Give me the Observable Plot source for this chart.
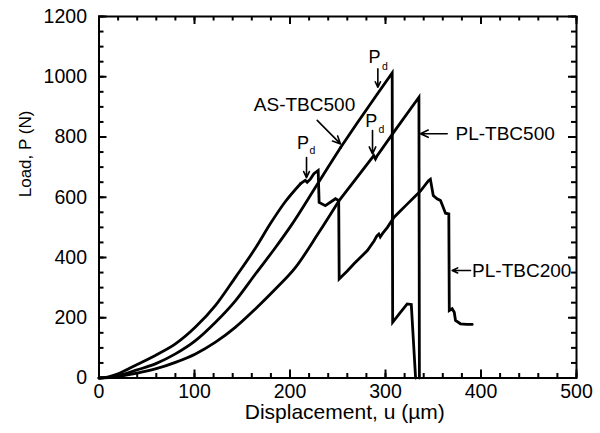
<!DOCTYPE html>
<html><head><meta charset="utf-8">
<script src="https://cdn.jsdelivr.net/npm/d3@7"></script>
<script src="https://cdn.jsdelivr.net/npm/@observablehq/plot@0.6"></script>
<style>body{margin:0;background:#fff}</style>
</head><body><div id="chart"></div>
<script>
// AS-TBC500
const asDisp = [0, 10, 20, 40, 59, 80, 101, 122, 143, 164, 185, 202, 228, 253, 270, 292, 307, 307.5, 315, 322.7, 327, 331.5];
const asLoad = [0, 2, 8, 27, 47, 80, 124, 185, 257, 346, 434, 510, 640, 765, 845, 945, 1013, 185, 215, 246, 244, 0];
// PL-TBC500
const pl500Disp = [0, 10, 20, 40, 59, 80, 101, 122, 143, 164, 185, 206, 230, 251, 270, 287.7, 289.5, 291.3, 310, 335, 335.5];
const pl500Load = [0, 1, 5, 16, 30, 52, 80, 119, 169, 230, 296, 368, 482, 587, 665, 738, 727, 738, 822, 932, 0];
// PL-TBC200
const pl200Disp = [0, 10, 20, 40, 59, 80, 101, 122, 143, 164, 180, 195, 211, 216, 218, 221.5, 225, 229.5, 230.5, 237, 247.6, 251, 251.5, 260, 267, 281, 288, 291, 293, 294.5, 297, 302, 309, 316, 323, 330, 337, 345, 347, 350, 354, 357.6, 360.4, 362.8, 366.3, 366.8, 369.8, 372, 373.3, 378.5, 385, 390.8];
const pl200Load = [0, 4, 14, 45, 75, 113, 169, 241, 335, 432, 515, 585, 645, 656, 650, 661, 678, 689, 583, 572, 595, 589, 329, 355, 379, 423, 455, 472, 478, 468, 480, 500, 534, 556, 578, 600, 622, 655, 660, 606, 595, 589, 567, 547, 545, 224, 230, 218, 191, 180, 178, 178];
// end of the smooth loading part of each curve (displacement)
const seriesNames = ["AS-TBC500", "PL-TBC500", "PL-TBC200"];
const smoothEnd = [253, 251, 211];

const xMajor = [0, 100, 200, 300, 400, 500];
const xMinor = d3.range(0, 501, 20);
const yMajor = [0, 200, 400, 600, 800, 1000, 1200];
const yMinor = d3.range(0, 1201, 50);

// annotations (data coordinates)
const curveLabels = ["AS-TBC500", "PL-TBC500", "PL-TBC200"];
const curveLabelX = [215.2, 373.3, 390.7];
const curveLabelY = [907, 811, 357];
const curveLabelAnchor = ["middle", "start", "start"];
const labelArrowX1 = [228.5, 364.6, 389];
const labelArrowY1 = [855, 811, 357];
const labelArrowX2 = [252.9, 336.6, 369.8];
const labelArrowY2 = [777, 811, 357];

const pdPX = [213.6, 285.2, 288.5];
const pdPY = [778, 853, 1064];
const pdSubX = [223.6, 295.8, 299.3];
const pdSubY = [756, 826, 1035];
const pdArrowX = [217.3, 286.4, 292];
const pdArrowY1 = [732, 821, 1026];
const pdArrowY2 = [665, 744, 965];

const series = (k, xs, ys) => xs.map((x, i) => ({series: seriesNames[k], end: smoothEnd[k], x, y: ys[i]}));
const data = [
  ...series(0, asDisp, asLoad),
  ...series(1, pl500Disp, pl500Load),
  ...series(2, pl200Disp, pl200Load)
];
const labels = curveLabels.map((t, i) => ({t, x: curveLabelX[i], y: curveLabelY[i], a: curveLabelAnchor[i],
  x1: labelArrowX1[i], y1: labelArrowY1[i], x2: labelArrowX2[i], y2: labelArrowY2[i]}));
const pds = pdPX.map((x, i) => ({x, y: pdPY[i], sx: pdSubX[i], sy: pdSubY[i], ax: pdArrowX[i], ay1: pdArrowY1[i], ay2: pdArrowY2[i]}));

const W = 600, H = 433, mL = 98.5, mR = 24, mT = 16, mB = 55.5;
const innerH = H - mT - mB, innerW = W - mL - mR;
const font = "'Liberation Sans', Arial, Helvetica, sans-serif";
const tk = {stroke: "#000", strokeWidth: 2};
const ln = {x: "x", y: "y", z: "series", stroke: "#000", strokeWidth: 2.8, strokeLinejoin: "miter", strokeMiterlimit: 4};

const chart = Plot.plot({
  width: W, height: H,
  marginLeft: mL, marginRight: mR, marginTop: mT, marginBottom: mB,
  style: {fontFamily: font, fontSize: "19px", background: "#fff", color: "#000"},
  x: {domain: [0, 500]},
  y: {domain: [0, 1200]},
  marks: [
    Plot.tickX(xMinor, {x: d => d, insetTop: innerH - 4.5, ...tk}),
    Plot.tickX(xMajor, {x: d => d, insetTop: innerH - 8, ...tk}),
    Plot.tickX(xMinor, {x: d => d, insetBottom: innerH - 4.5, ...tk}),
    Plot.tickX(xMajor, {x: d => d, insetBottom: innerH - 8, ...tk}),
    Plot.tickY(yMinor, {y: d => d, insetRight: innerW - 5, ...tk}),
    Plot.tickY(yMajor, {y: d => d, insetRight: innerW - 8, ...tk}),
    Plot.tickY(yMinor, {y: d => d, insetLeft: innerW - 5, ...tk}),
    Plot.tickY(yMajor, {y: d => d, insetLeft: innerW - 8, ...tk}),
    Plot.axisX({ticks: xMajor, tickSize: 0, tickPadding: 6, tickFormat: "d", label: null, fontSize: 19.5}),
    Plot.axisY({ticks: yMajor, tickSize: 0, tickPadding: 12, tickFormat: "d", label: null, fontSize: 19.5}),
    Plot.line(data.filter(d => d.x <= d.end), {...ln, curve: "monotone-x", strokeLinejoin: "round"}),
    Plot.line(data.filter(d => d.x >= d.end), ln),
    Plot.frame({stroke: "#000", strokeWidth: 2}),
    Plot.text(["Load, P (N)"], {frameAnchor: "left", dx: -73, rotate: -90, fontSize: 17}),
    Plot.text(["Displacement, u (µm)"], {frameAnchor: "bottom", dy: 41, dx: 7, fontSize: 21}),
    Plot.text(labels, {x: "x", y: "y", text: "t", textAnchor: "start", filter: d => d.a === "start", fontSize: 19}),
    Plot.text(labels, {x: "x", y: "y", text: "t", filter: d => d.a === "middle", fontSize: 19}),
    Plot.arrow(labels, {x1: "x1", y1: "y1", x2: "x2", y2: "y2", stroke: "#000", strokeWidth: 1.6, headLength: 8, headAngle: 50}),
    Plot.text(pds, {x: "x", y: "y", text: () => "P", fontSize: 18}),
    Plot.text(pds, {x: "sx", y: "sy", text: () => "d", fontSize: 10.5}),
    Plot.arrow(pds, {x1: "ax", y1: "ay1", x2: "ax", y2: "ay2", stroke: "#000", strokeWidth: 1.6, headLength: 8, headAngle: 50})
  ]
});
document.getElementById("chart").appendChild(chart);
</script>
</body></html>
